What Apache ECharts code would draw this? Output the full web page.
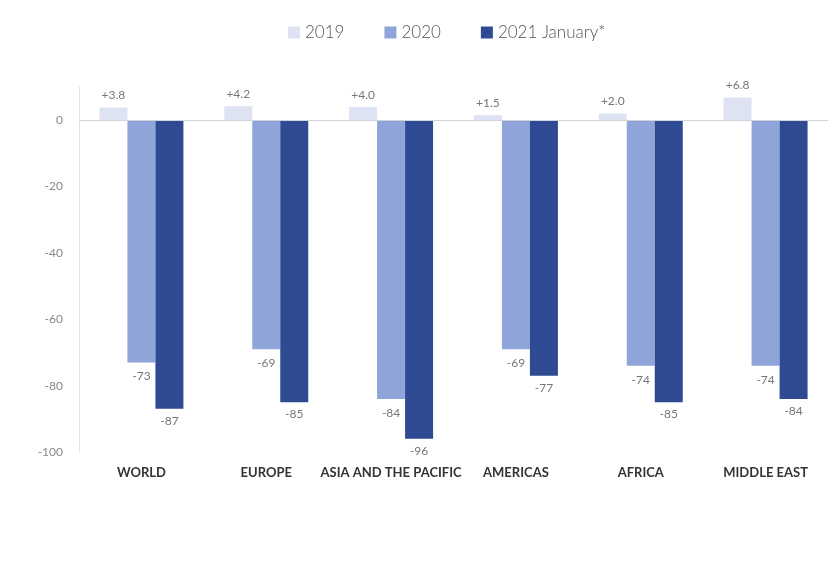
<!DOCTYPE html>
<html>
<head>
<meta charset="utf-8">
<script src="https://cdn.jsdelivr.net/npm/echarts@6/dist/echarts.min.js"></script>
<style>
html,body{margin:0;padding:0;background:#fff;}
#chart{width:835px;height:563px;}
</style>
</head>
<body>
<div id="chart"></div>
<script>
var categories = ['WORLD', 'EUROPE', 'ASIA AND THE PACIFIC', 'AMERICAS', 'AFRICA', 'MIDDLE EAST'];
var seriesNames = ['2019', '2020', '2021 January*'];
var values2019 = [3.8, 4.2, 4.0, 1.5, 2.0, 6.8];
var values2020 = [-73, -69, -84, -69, -74, -74];
var values2021 = [-87, -85, -96, -77, -85, -84];
var yTicks = [0, -20, -40, -60, -80, -100];

var colors = ['#dde3f3', '#8fa4d8', '#2e4a93'];
var fontFam = 'Lato, "Noto Sans", sans-serif';

var chart = echarts.init(document.getElementById('chart'), null, {renderer: 'canvas'});

function barSeries(name, data, color, pos, dist, fmt) {
  return {
    name: name,
    type: 'bar',
    data: data,
    barWidth: 28,
    barGap: '0%',
    itemStyle: {color: color},
    label: {
      show: true,
      position: pos,
      distance: dist,
      color: '#777',
      fontSize: 12,
      fontFamily: fontFam,
      formatter: fmt
    }
  };
}

var s1 = barSeries(seriesNames[0], values2019, colors[0], 'top', 6, function (p) { return '+' + p.value.toFixed(1); });
s1.markLine = {
  silent: true,
  symbol: 'none',
  label: {show: false},
  lineStyle: {color: '#cfd3da', width: 1, type: 'solid'},
  data: [{yAxis: 0}]
};
var s2 = barSeries(seriesNames[1], values2020, colors[1], 'bottom', 8, function (p) { return String(p.value); });
var s3 = barSeries(seriesNames[2], values2021, colors[2], 'bottom', 6, function (p) { return String(p.value); });

chart.setOption({
  backgroundColor: '#fff',
  animation: false,
  textStyle: {fontFamily: fontFam},
  legend: {
    top: 19,
    left: 283,
    itemWidth: 12,
    itemHeight: 12,
    itemGap: 40,
    icon: 'rect',
    textStyle: {color: '#555', fontSize: 17, fontWeight: 300, fontFamily: fontFam},
    data: seriesNames
  },
  grid: {left: 79, right: 7, top: 87, bottom: 111, containLabel: false},
  xAxis: {
    type: 'category',
    data: categories,
    axisLine: {show: false, onZero: false},
    axisTick: {show: false},
    axisLabel: {
      margin: 14,
      color: '#333',
      fontSize: 13,
      fontWeight: 'bold',
      fontFamily: fontFam,
      interval: 0
    }
  },
  yAxis: {
    type: 'value',
    min: -100,
    max: 10,
    interval: 20,
    axisLine: {show: true, lineStyle: {color: '#e2e4e8'}},
    axisTick: {show: false},
    splitLine: {show: false},
    axisLabel: {
      margin: 16,
      color: '#888',
      fontSize: 12,
      fontFamily: fontFam,
      customValues: yTicks,
      formatter: function (v) { return yTicks.indexOf(v) >= 0 ? String(v) : ''; }
    }
  },
  series: [s1, s2, s3]
});
</script>
</body>
</html>
